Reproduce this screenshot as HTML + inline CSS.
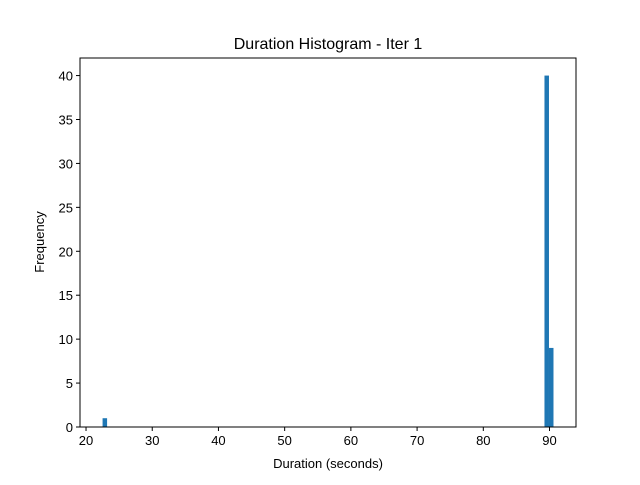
<!DOCTYPE html>
<html><head><meta charset="utf-8"><style>
body{margin:0;background:#fff;}
svg text{font-family:"Liberation Sans","DejaVu Sans",sans-serif;fill:#000;}
</style></head><body>
<svg id="chart" width="640" height="480">
<rect width="640" height="480" fill="#fff"/>
<text x="328" y="49" font-size="16" text-anchor="middle">Duration Histogram - Iter 1</text>
<g id="bars"></g>
<g id="xticks"></g>
<g id="yticks"></g>
<rect x="80" y="58" width="496" height="369" fill="none" stroke="#000" stroke-width="1"/>
<text x="328" y="468" font-size="13" text-anchor="middle">Duration (seconds)</text>
<text x="44" y="242" font-size="13" text-anchor="middle" transform="rotate(-90 44 242)">Frequency</text>
</svg>
<script>
const binMin = 22.5;
const binMax = 90.6;
const binCount = 100;
const binIndices = [0, 98, 99];
const binCounts = [1, 40, 9];
const xTickValues = [20, 30, 40, 50, 60, 70, 80, 90];
const yTickValues = [0, 5, 10, 15, 20, 25, 30, 35, 40];

const X0=80,X1=576,Y0=427,Y1=58;
const xMin=19.09,xMax=94.0,yMin=0,yMax=42;
const xs=v=>X0+(v-xMin)/(xMax-xMin)*(X1-X0);
const ys=v=>Y0-(v-yMin)/(yMax-yMin)*(Y0-Y1);
const NS="http://www.w3.org/2000/svg";
const bw=(binMax-binMin)/binCount;
const bars=document.getElementById('bars');
binIndices.forEach((b,i)=>{
  const r=document.createElementNS(NS,'rect');
  const a=xs(binMin+b*bw),c=xs(binMin+(b+1)*bw);
  r.setAttribute('x',a);r.setAttribute('width',c-a);
  r.setAttribute('y',ys(binCounts[i]));r.setAttribute('height',Y0-ys(binCounts[i]));
  r.setAttribute('fill','#1f77b4');
  
  
  bars.appendChild(r);
});
const xg=document.getElementById('xticks');
xTickValues.forEach(v=>{
  const x=xs(v);
  const l=document.createElementNS(NS,'line');
  l.setAttribute('x1',x);l.setAttribute('x2',x);l.setAttribute('y1',Y0);l.setAttribute('y2',Y0+4);l.setAttribute('stroke','#000');
  
  
  xg.appendChild(l);
  const t=document.createElementNS(NS,'text');
  t.setAttribute('x',x);t.setAttribute('y',Y0+18);t.setAttribute('font-size','13');t.setAttribute('text-anchor','middle');
  t.textContent=v;
  
  
  xg.appendChild(t);
});
const yg=document.getElementById('yticks');
yTickValues.forEach(v=>{
  const y=ys(v);
  const l=document.createElementNS(NS,'line');
  l.setAttribute('x1',X0-4);l.setAttribute('x2',X0);l.setAttribute('y1',y);l.setAttribute('y2',y);l.setAttribute('stroke','#000');
  
  
  yg.appendChild(l);
  const t=document.createElementNS(NS,'text');
  t.setAttribute('x',X0-7);t.setAttribute('y',y+5);t.setAttribute('font-size','13');t.setAttribute('text-anchor','end');
  t.textContent=v;
  
  
  yg.appendChild(t);
});
</script>
</body></html>
